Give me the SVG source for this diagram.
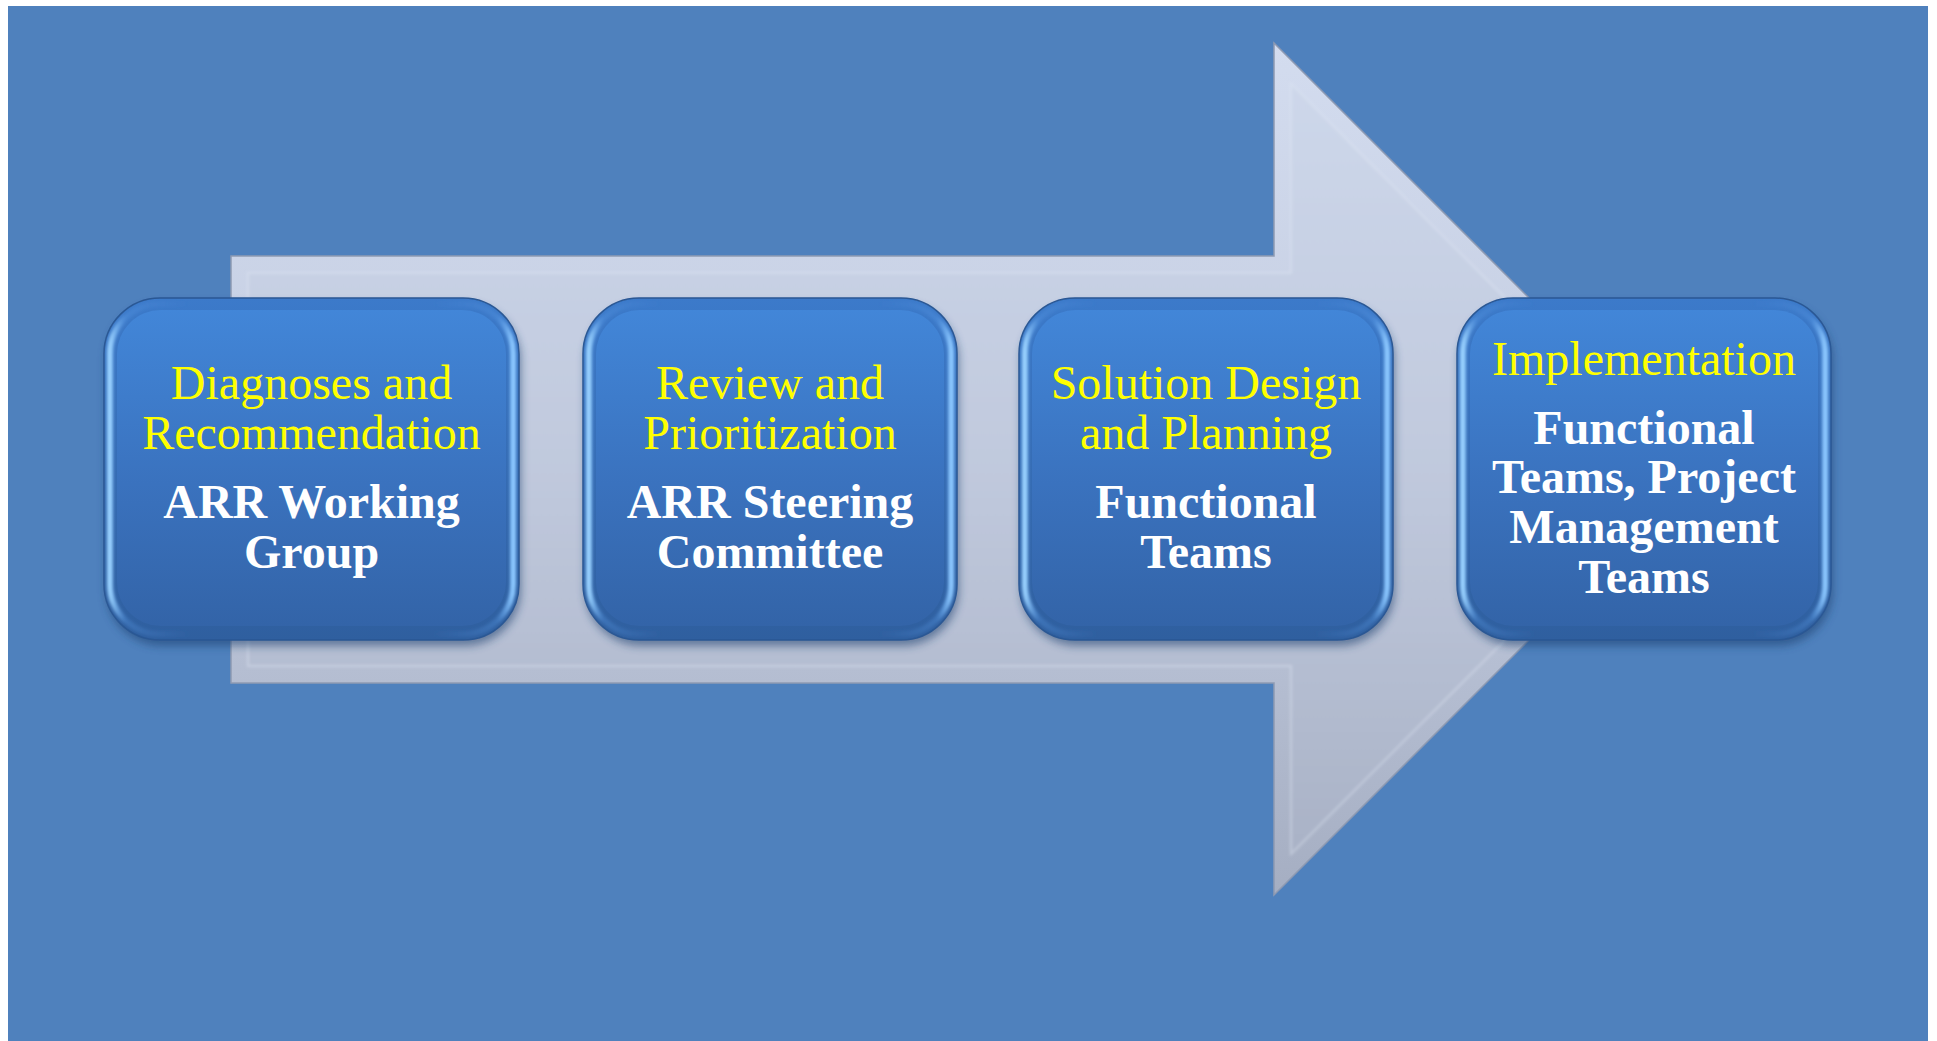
<svg xmlns="http://www.w3.org/2000/svg" width="1937" height="1041" viewBox="0 0 1937 1041">
  <defs>
    <linearGradient id="arrowFill" x1="0" y1="0" x2="0" y2="1">
      <stop offset="0" stop-color="#D3DCEF"/>
      <stop offset="0.5" stop-color="#C3CCE0"/>
      <stop offset="1" stop-color="#A5AEC2"/>
    </linearGradient>
    <linearGradient id="arrowInner" x1="0" y1="0" x2="0" y2="1">
      <stop offset="0" stop-color="#CDD7EA"/>
      <stop offset="0.5" stop-color="#C0C9DD"/>
      <stop offset="1" stop-color="#A9B2C6"/>
    </linearGradient>
    <linearGradient id="boxOuter" x1="0" y1="0" x2="0" y2="1">
      <stop offset="0" stop-color="#3C7ACA"/>
      <stop offset="1" stop-color="#2F5F9F"/>
    </linearGradient>
    <linearGradient id="boxFace" x1="0" y1="0" x2="0" y2="1">
      <stop offset="0" stop-color="#4286D8"/>
      <stop offset="0.55" stop-color="#3A72BE"/>
      <stop offset="1" stop-color="#3364A8"/>
    </linearGradient>
    <linearGradient id="bevelSide" x1="0" y1="0" x2="1" y2="0">
      <stop offset="0" stop-color="#9AD2FF"/>
      <stop offset="0.04" stop-color="#5C9EEA" stop-opacity="0.3"/>
      <stop offset="0.2" stop-color="#4A88D8" stop-opacity="0"/>
      <stop offset="0.8" stop-color="#4A88D8" stop-opacity="0"/>
      <stop offset="0.96" stop-color="#5C9EEA" stop-opacity="0.3"/>
      <stop offset="1" stop-color="#8CC8FF"/>
    </linearGradient>
    <filter id="shadow" x="-10%" y="-10%" width="120%" height="130%">
      <feGaussianBlur stdDeviation="4"/>
    </filter>
    <filter id="soft" x="-5%" y="-5%" width="110%" height="110%">
      <feGaussianBlur stdDeviation="1.5"/>
    </filter>
    <style>
      .lead { font-family: "Liberation Serif", "Times New Roman", serif; font-size: 48px; fill: #FFFF00; text-anchor: middle; }
      .team { font-family: "Liberation Serif", "Times New Roman", serif; font-size: 48px; font-weight: bold; fill: #FFFFFF; text-anchor: middle; }
    </style>
  </defs>

  <!-- page and backdrop -->
  <rect x="0" y="0" width="1937" height="1041" fill="#FFFFFF"/>
  <rect x="8" y="6" width="1920" height="1035" fill="#4F81BD"/>

  <!-- big process arrow -->
  <g id="connectors">
    <polygon points="231,256 1274,256 1274,43 1700,469 1274,895 1274,683 231,683" fill="url(#arrowFill)" stroke="#8E9AB2" stroke-width="1.5"/>
    <polygon points="248,273 1291,273 1291,84 1676,469 1291,854 1291,666 248,666" fill="url(#arrowInner)" stroke="#E2E8F4" stroke-opacity="0.4" stroke-width="2" filter="url(#soft)"/>
  </g>

  <!-- step 1 -->
  <g id="node1">
    <rect x="106" y="304" width="415" height="342" rx="56" fill="#1E3F6E" opacity="0.55" filter="url(#shadow)"/>
    <rect x="104" y="298" width="415" height="342" rx="56" fill="url(#boxOuter)" stroke="#2A5794" stroke-width="1.5"/>
    <rect x="110" y="304" width="403" height="330" rx="50" fill="none" stroke="url(#bevelSide)" stroke-width="6" filter="url(#soft)"/>
    <rect x="117" y="310" width="389" height="316" rx="44" fill="url(#boxFace)"/>
    <text class="lead" x="311.5" y="399">Diagnoses and</text>
    <text class="lead" x="311.5" y="449">Recommendation</text>
    <text class="team" x="311.5" y="518">ARR Working</text>
    <text class="team" x="311.5" y="568">Group</text>
  </g>

  <!-- step 2 -->
  <g id="node2">
    <rect x="585" y="304" width="374" height="342" rx="56" fill="#1E3F6E" opacity="0.55" filter="url(#shadow)"/>
    <rect x="583" y="298" width="374" height="342" rx="56" fill="url(#boxOuter)" stroke="#2A5794" stroke-width="1.5"/>
    <rect x="589" y="304" width="362" height="330" rx="50" fill="none" stroke="url(#bevelSide)" stroke-width="6" filter="url(#soft)"/>
    <rect x="596" y="310" width="348" height="316" rx="44" fill="url(#boxFace)"/>
    <text class="lead" x="770" y="399">Review and</text>
    <text class="lead" x="770" y="449">Prioritization</text>
    <text class="team" x="770" y="518">ARR Steering</text>
    <text class="team" x="770" y="568">Committee</text>
  </g>

  <!-- step 3 -->
  <g id="node3">
    <rect x="1021" y="304" width="374" height="342" rx="56" fill="#1E3F6E" opacity="0.55" filter="url(#shadow)"/>
    <rect x="1019" y="298" width="374" height="342" rx="56" fill="url(#boxOuter)" stroke="#2A5794" stroke-width="1.5"/>
    <rect x="1025" y="304" width="362" height="330" rx="50" fill="none" stroke="url(#bevelSide)" stroke-width="6" filter="url(#soft)"/>
    <rect x="1032" y="310" width="348" height="316" rx="44" fill="url(#boxFace)"/>
    <text class="lead" x="1206" y="399">Solution Design</text>
    <text class="lead" x="1206" y="449">and Planning</text>
    <text class="team" x="1206" y="518">Functional</text>
    <text class="team" x="1206" y="568">Teams</text>
  </g>

  <!-- step 4 -->
  <g id="node4">
    <rect x="1459" y="304" width="374" height="342" rx="56" fill="#1E3F6E" opacity="0.55" filter="url(#shadow)"/>
    <rect x="1457" y="298" width="374" height="342" rx="56" fill="url(#boxOuter)" stroke="#2A5794" stroke-width="1.5"/>
    <rect x="1463" y="304" width="362" height="330" rx="50" fill="none" stroke="url(#bevelSide)" stroke-width="6" filter="url(#soft)"/>
    <rect x="1470" y="310" width="348" height="316" rx="44" fill="url(#boxFace)"/>
    <text class="lead" x="1644" y="375">Implementation</text>
    <text class="team" x="1644" y="444">Functional</text>
    <text class="team" x="1644" y="493">Teams, Project</text>
    <text class="team" x="1644" y="543">Management</text>
    <text class="team" x="1644" y="593">Teams</text>
  </g>
</svg>
